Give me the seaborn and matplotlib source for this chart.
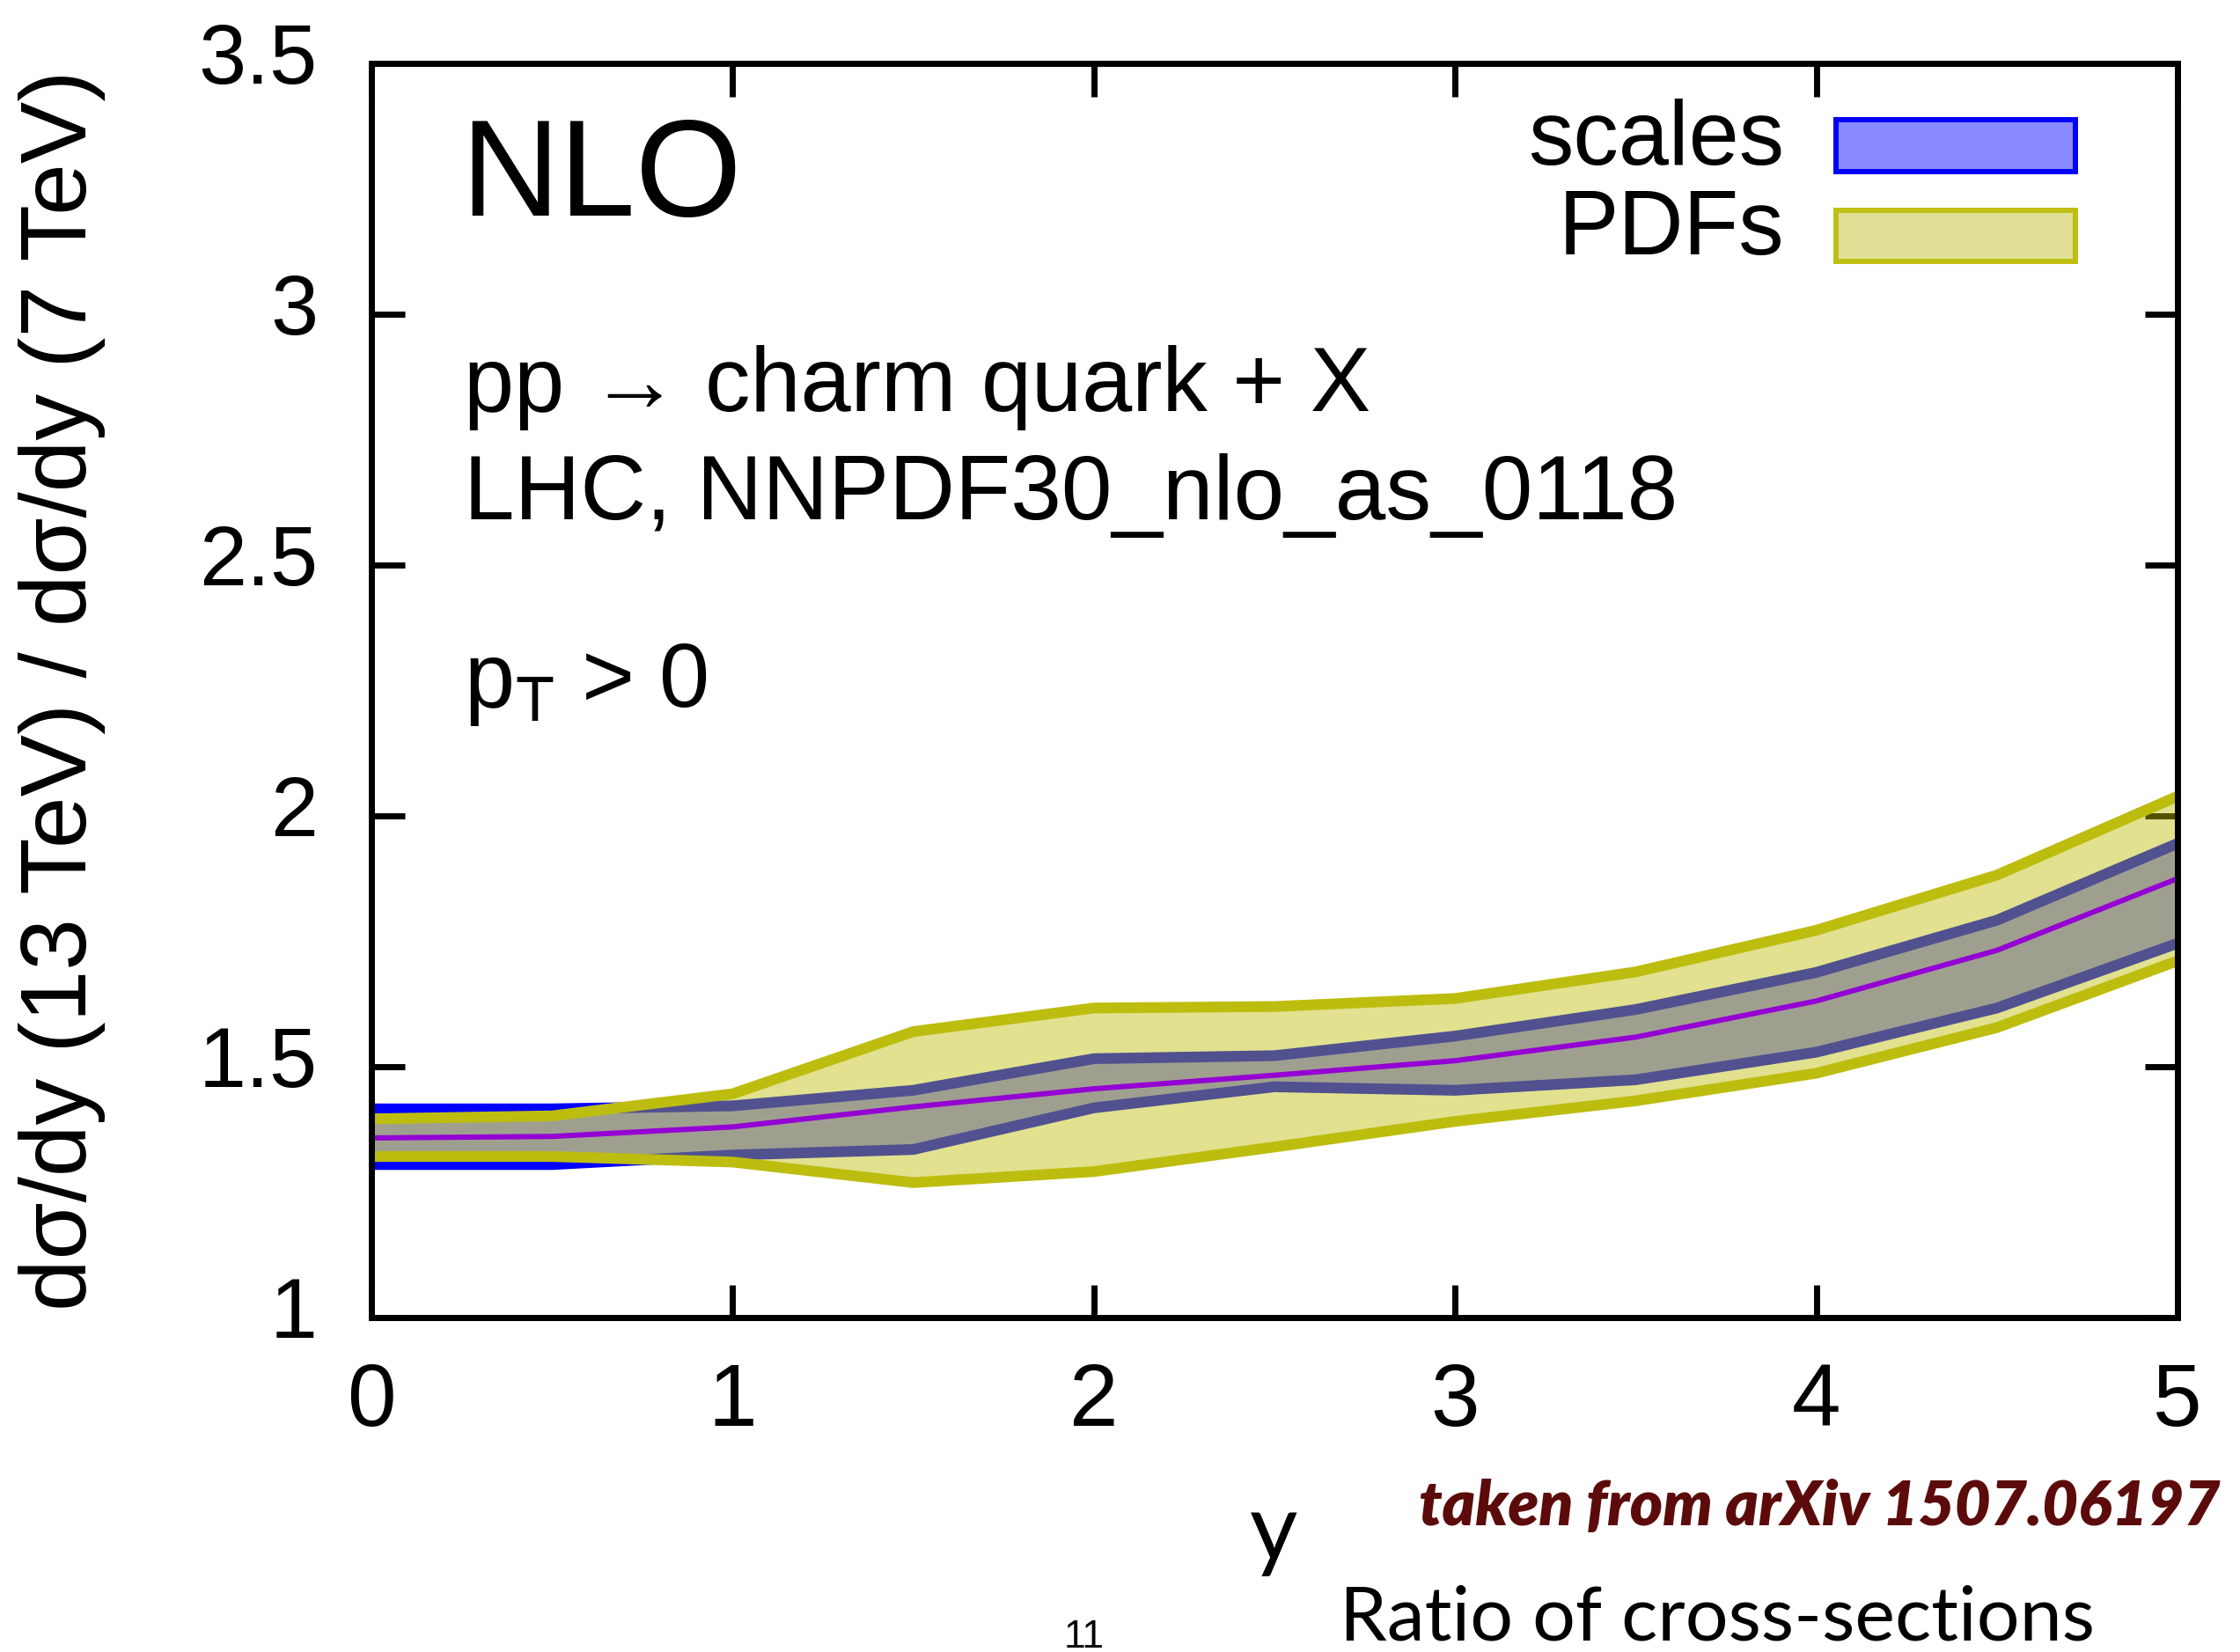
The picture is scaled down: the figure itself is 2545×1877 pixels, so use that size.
import matplotlib
matplotlib.use("Agg")
import matplotlib.pyplot as plt
import matplotlib.transforms as mtransforms
from matplotlib.patches import Patch, Rectangle
from matplotlib.legend_handler import HandlerPatch
import numpy as np
import pandas as pd
import seaborn as sns

# ---------------- data ----------------
rapidity = [0, 0.5, 1, 1.5, 2, 2.5, 3, 3.5, 4, 4.5, 5]
central = [1.358, 1.361, 1.380, 1.420, 1.456, 1.483, 1.512, 1.559, 1.631, 1.732, 1.875]
scales_hi = [1.416, 1.416, 1.422, 1.453, 1.516, 1.522, 1.561, 1.614, 1.688, 1.792, 1.945]
scales_lo = [1.305, 1.305, 1.324, 1.335, 1.418, 1.460, 1.453, 1.474, 1.529, 1.617, 1.746]
pdfs_hi = [1.396, 1.402, 1.446, 1.570, 1.617, 1.620, 1.636, 1.689, 1.772, 1.882, 2.039]
pdfs_lo = [1.321, 1.321, 1.310, 1.269, 1.291, 1.340, 1.391, 1.432, 1.487, 1.578, 1.711]

x_ticks = [0, 1, 2, 3, 4, 5]
x_ticklabels = ["0", "1", "2", "3", "4", "5"]
y_ticks = [1, 1.5, 2, 2.5, 3, 3.5]
y_ticklabels = ["1", "1.5", "2", "2.5", "3", "3.5"]
legend_labels = ["scales", "PDFs"]

df = pd.DataFrame({"y": rapidity, "central": central,
                   "s_hi": scales_hi, "s_lo": scales_lo,
                   "p_hi": pdfs_hi, "p_lo": pdfs_lo})

# ---------------- style ----------------
sns.set_theme(style="ticks")
plt.rcParams["font.family"] = ["Liberation Sans", "DejaVu Sans"]
plt.rcParams["mathtext.fontset"] = "custom"
plt.rcParams["mathtext.rm"] = "Liberation Sans"
plt.rcParams["mathtext.it"] = "Liberation Sans"

W, H = 2545, 1877
DPI = 100
fig = plt.figure(figsize=(W / DPI, H / DPI), dpi=DPI)
fig.patch.set_facecolor("white")

ax_l, ax_r, ax_t, ax_b = 422, 2474, 72, 1497
ax = fig.add_axes([ax_l / W, 1 - ax_b / H, (ax_r - ax_l) / W, (ax_b - ax_t) / H])
ax.set_facecolor("white")

BLUE = (0, 0, 1)
BLUE_EDGE = "#0000ff"
YEL_FILL = (188 / 255, 188 / 255, 0)
YEL_EDGE = "#bdbd10"
PURPLE = "#9400d3"
EDGE_LW = 8.8

# scales band
ax.fill_between(df["y"], df["s_lo"], df["s_hi"], color=BLUE, alpha=0.46, lw=0, zorder=1)
for col in ["s_hi", "s_lo"]:
    sns.lineplot(data=df, x="y", y=col, ax=ax, color=BLUE_EDGE, lw=EDGE_LW,
                 zorder=2, solid_capstyle="butt", solid_joinstyle="miter")
# PDF band
ax.fill_between(df["y"], df["p_lo"], df["p_hi"], color=YEL_FILL, alpha=0.435, lw=0, zorder=3)
for col in ["p_hi", "p_lo"]:
    sns.lineplot(data=df, x="y", y=col, ax=ax, color=YEL_EDGE, lw=EDGE_LW,
                 zorder=4, solid_capstyle="butt", solid_joinstyle="miter")
# central line
sns.lineplot(data=df, x="y", y="central", ax=ax, color=PURPLE, lw=4.3, zorder=5,
             solid_capstyle="butt")

ax.set_xlim(0, 5)
ax.set_ylim(1, 3.5)
ax.set_xticks(x_ticks)
ax.set_xticklabels(x_ticklabels)
ax.set_yticks(y_ticks)
ax.set_yticklabels(y_ticklabels)
ax.tick_params(axis="both", direction="in", length=27, width=5, color="black",
               top=True, right=True, labelcolor="black")
ax.tick_params(axis="x", labelsize=72, pad=36)
ax.tick_params(axis="y", labelsize=70, pad=44)
for sp in ax.spines.values():
    sp.set_visible(True)
    sp.set_linewidth(5)
    sp.set_color("black")
    sp.set_zorder(10)

off = mtransforms.ScaledTranslation(0, 12 / DPI, fig.dpi_scale_trans)
for lab in ax.get_yticklabels():
    lab.set_transform(lab.get_transform() + off)

# axis labels
ax.set_ylabel("dσ/dy (13 TeV) / dσ/dy (7 TeV)", fontsize=76, color="black")
ax.yaxis.label.set_va("center")
ax.yaxis.label.set_ha("center")
ax.yaxis.set_label_coords((71 - ax_l) / (ax_r - ax_l), 0.5)

ax.set_xlabel("y", fontsize=76, color="black", family=["Lato", "DejaVu Sans"])
ax.xaxis.label.set_va("baseline")
ax.xaxis.set_label_coords((1447 - ax_l) / (ax_r - ax_l), (ax_b - 1773) / (ax_b - ax_t))


# legend: text on the left, box on the right, box sits a bit low
def lowered_box(legend, orig_handle, xdescent, ydescent, width, height, fontsize):
    return Rectangle((-xdescent, -ydescent - 11), width, height)


handles = [Patch(facecolor="#8a8aff", edgecolor="#0000ff", lw=4.3),
           Patch(facecolor="#dfe095", edgecolor="#bebe14", lw=4.3)]
leg = ax.legend(handles, legend_labels, loc="upper right", markerfirst=False,
                frameon=False, fontsize=74, borderpad=0, borderaxespad=0,
                handlelength=2.65, handleheight=0.5, handletextpad=0.57,
                labelspacing=0.05,
                handler_map={Patch: HandlerPatch(patch_func=lowered_box)},
                bbox_to_anchor=(2358 / W, 1 - 112 / H), bbox_transform=fig.transFigure)
for t in leg.get_texts():
    t.set_color("black")

# annotations inside the plot
fig.text(523 / W, 1 - 245 / H, "NLO", fontsize=112, va="baseline", ha="left", color="black")
fig.text(527 / W, 1 - 467 / H, "pp → charm quark + X", fontsize=74, va="baseline",
         ha="left", color="black", family=["Liberation Sans", "DejaVu Sans"])
fig.text(527 / W, 1 - 590 / H, "LHC, NNPDF30_nlo_as_0118", fontsize=74.5, va="baseline",
         ha="left", color="black")
fig.text(527 / W, 1 - 803 / H, r"p$_{\rm T}$ > 0", fontsize=74, va="baseline",
         ha="left", color="black")

# slide texts
fig.text(2522 / W, 1 - 1733 / H, "taken from arXiv 1507.06197", fontsize=51,
         va="baseline", ha="right", color="#5c0b0b", family=["Lato", "DejaVu Sans"],
         weight="heavy", style="italic")
fig.text(1522 / W, 1 - 1863 / H, "Ratio of cross-sections", fontsize=62,
         va="baseline", ha="left", color="black", family=["Lato", "DejaVu Sans"])
fig.text(1232 / W, 1 - 1872 / H, "11", fontsize=32, va="baseline", ha="center",
         color="black")

fig.savefig("out.png", dpi=DPI, facecolor="white")
